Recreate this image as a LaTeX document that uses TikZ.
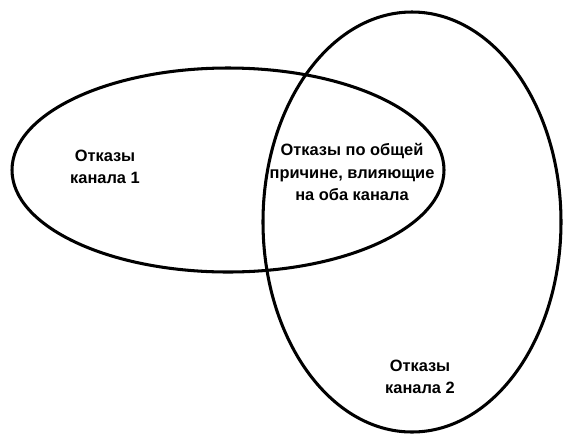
\documentclass[tikz,border=0pt]{standalone}
\usepackage{fontspec}
\setmainfont{Liberation Sans}
\usepackage{tikz}
\usetikzlibrary{positioning}
\tikzset{
    region/.style={line width=2.6pt, draw=black},
    venntext/.style={align=center, font=\fontsize{14}{19}\selectfont\bfseries}
}

\begin{document}
\begin{tikzpicture}[x=0.03cm, y=-0.03cm]
    \useasboundingbox (0,0) rectangle (576,435);
    % two channels
    \draw [region] (228,170) ellipse [x radius=216, y radius=102];
    \draw [region] (412,222) ellipse [x radius=149, y radius=210];

    \node (ch1) [venntext] at (105,167) {Отказы\\канала 1};
    \node (both) [venntext] at (352,172) {Отказы по общей\\причине, влияющие\\на оба канала};
    \node (ch2) [venntext] at (420,377) {Отказы\\канала 2};
\end{tikzpicture}
\end{document}
